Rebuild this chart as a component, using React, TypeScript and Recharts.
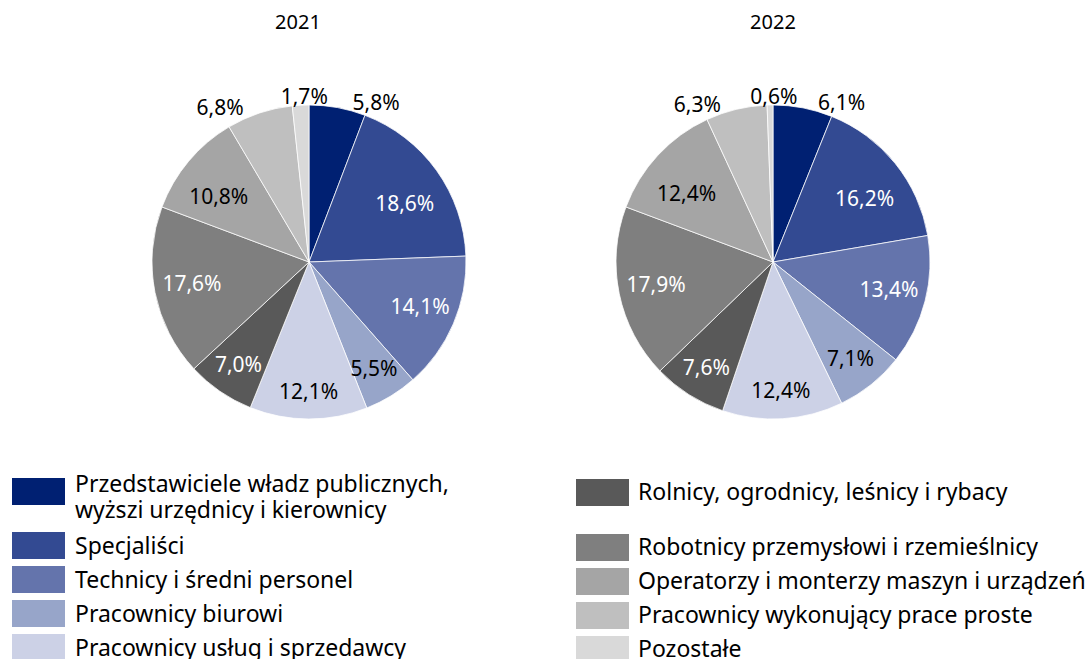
import React from "react";
import { PieChart, Pie, Cell } from "recharts";

const categories = [
  "Przedstawiciele władz publicznych, wyższi urzędnicy i kierownicy",
  "Specjaliści",
  "Technicy i średni personel",
  "Pracownicy biurowi",
  "Pracownicy usług i sprzedawcy",
  "Rolnicy, ogrodnicy, leśnicy i rybacy",
  "Robotnicy przemysłowi i rzemieślnicy",
  "Operatorzy i monterzy maszyn i urządzeń",
  "Pracownicy wykonujący prace proste",
  "Pozostałe",
];
const legendLabels = [
  ["Przedstawiciele władz publicznych,", "wyższi urzędnicy i kierownicy"],
  ["Specjaliści"],
  ["Technicy i średni personel"],
  ["Pracownicy biurowi"],
  ["Pracownicy usług i sprzedawcy"],
  ["Rolnicy, ogrodnicy, leśnicy i rybacy"],
  ["Robotnicy przemysłowi i rzemieślnicy"],
  ["Operatorzy i monterzy maszyn i urządzeń"],
  ["Pracownicy wykonujący prace proste"],
  ["Pozostałe"],
];
const years = ["2021", "2022"];
const values2021 = [5.8, 18.6, 14.1, 5.5, 12.1, 7.0, 17.6, 10.8, 6.8, 1.7];
const values2022 = [6.1, 16.2, 13.4, 7.1, 12.4, 7.6, 17.9, 12.4, 6.3, 0.6];
const colors = [
  "#002072",
  "#334a92",
  "#6474ac",
  "#97a5c9",
  "#ccd1e6",
  "#595959",
  "#7f7f7f",
  "#a5a5a5",
  "#bfbfbf",
  "#d9d9d9",
];
const whiteLabelIdx = [1, 2, 5, 6];

const FONT = "'Noto Sans', sans-serif";
const RADIAN = Math.PI / 180;

const build = (vals: number[]) => categories.map((name, i) => ({ name, value: vals[i] }));
const fmt = (v: number) => v.toFixed(1).replace(".", ",") + "%";

const renderLabel = (props: any) => {
  const { cx, cy, midAngle, outerRadius, index, value } = props;
  const cos = Math.cos(-midAngle * RADIAN);
  const sin = Math.sin(-midAngle * RADIAN);
  const outside = sin < -0.9;
  let x: number, y: number, anchor: "start" | "middle" | "end";
  let fill = whiteLabelIdx.includes(index) ? "#ffffff" : "#000000";
  if (outside) {
    const r = outerRadius + 6;
    const px = cx + r * cos;
    const py = cy + r * sin;
    fill = "#000000";
    if (Math.abs(px - cx) < 15) {
      x = px + 4;
      y = py - 3;
      anchor = "middle";
    } else if (px > cx) {
      x = px + 14;
      y = py;
      anchor = "start";
    } else {
      x = px - 14;
      y = py;
      anchor = "end";
    }
  } else {
    const down = Math.max(0, sin);
    x = cx + outerRadius * (0.75 + 0.05 * down) * cos;
    y = cy + outerRadius * (0.65 + 0.17 * down) * sin;
    anchor = "middle";
  }
  return (
    <text
      key={`lbl-${index}`}
      x={x}
      y={y}
      fill={fill}
      textAnchor={anchor}
      dominantBaseline="central"
      style={{ fontFamily: FONT, fontSize: 21 }}
    >
      {fmt(value)}
    </text>
  );
};

const LEG_FONT = 23;

const Legend = () => {
  const items: React.ReactNode[] = [];
  const cols = [
    { idx: [0, 1, 2, 3, 4], sqX: 12, textX: 75, firstTop: 478, firstH: 54, baseOff: 22 },
    { idx: [5, 6, 7, 8, 9], sqX: 576, textX: 638, firstTop: 479, firstH: 55, baseOff: 21 },
  ];
  cols.forEach((c) => {
    c.idx.forEach((i, k) => {
      const top = k === 0 ? c.firstTop : c.firstTop + c.firstH + (k - 1) * 34;
      const lines = legendLabels[i];
      items.push(
        <rect key={`sq-${i}`} x={c.sqX} y={top} width={53} height={27} fill={colors[i]} />
      );
      lines.forEach((l, li) => {
        const base = lines.length > 1 ? top + 14 + li * 26 : top + c.baseOff;
        items.push(
          <text
            key={`tx-${i}-${li}`}
            x={c.textX}
            y={base}
            fill="#000"
            style={{ fontFamily: FONT, fontSize: LEG_FONT }}
          >
            {l}
          </text>
        );
      });
    });
  });
  return (
    <svg width={1087} height={659} style={{ position: "absolute", left: 0, top: 0 }}>
      {items}
    </svg>
  );
};

export default function App() {
  const pies = [values2021, values2022];
  const centers = [309, 773];
  const titleX = [298, 773];
  return (
    <div
      style={{
        position: "absolute",
        left: 0,
        top: 0,
        width: 1087,
        height: 659,
        overflow: "hidden",
        background: "#ffffff",
        fontFamily: FONT,
        color: "#000",
      }}
    >
      {years.map((y, k) => (
        <div
          key={y}
          style={{
            position: "absolute",
            left: titleX[k] - 50,
            width: 100,
            top: 8,
            textAlign: "center",
            fontSize: 20,
            lineHeight: "28px",
          }}
        >
          {y}
        </div>
      ))}
      <div style={{ position: "absolute", left: 0, top: 0 }}>
        <PieChart width={1087} height={440} margin={{ top: 0, right: 0, bottom: 0, left: 0 }}>
          {pies.map((vals, k) => (
            <Pie
              key={years[k]}
              data={build(vals)}
              dataKey="value"
              nameKey="name"
              cx={centers[k]}
              cy={262}
              outerRadius={157}
              startAngle={90}
              endAngle={-270}
              stroke="#ffffff"
              strokeWidth={0.75}
              label={renderLabel}
              labelLine={false}
              isAnimationActive={false}
            >
              {vals.map((_, i) => (
                <Cell key={i} fill={colors[i]} />
              ))}
            </Pie>
          ))}
        </PieChart>
      </div>
      <Legend />
    </div>
  );
}
